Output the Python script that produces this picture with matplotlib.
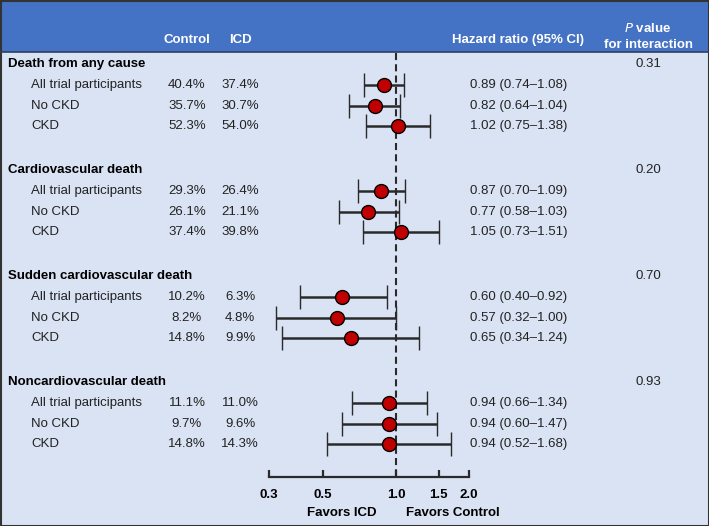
import numpy as np
import matplotlib
matplotlib.use("Agg")
import matplotlib.pyplot as plt
from matplotlib.patches import Rectangle

plt.rcParams['font.family'] = ['Liberation Sans', 'DejaVu Sans']

# data
groups = ["Death from any cause", "Cardiovascular death",
          "Sudden cardiovascular death", "Noncardiovascular death"]
subgroups = ["All trial participants", "No CKD", "CKD"]
control_pct = [["40.4%", "35.7%", "52.3%"],
               ["29.3%", "26.1%", "37.4%"],
               ["10.2%", "8.2%", "14.8%"],
               ["11.1%", "9.7%", "14.8%"]]
icd_pct = [["37.4%", "30.7%", "54.0%"],
           ["26.4%", "21.1%", "39.8%"],
           ["6.3%", "4.8%", "9.9%"],
           ["11.0%", "9.6%", "14.3%"]]
hr = [[0.89, 0.82, 1.02],
      [0.87, 0.77, 1.05],
      [0.60, 0.57, 0.65],
      [0.94, 0.94, 0.94]]
hr_lo = [[0.74, 0.64, 0.75],
         [0.70, 0.58, 0.73],
         [0.40, 0.32, 0.34],
         [0.66, 0.60, 0.52]]
hr_hi = [[1.08, 1.04, 1.38],
         [1.09, 1.03, 1.51],
         [0.92, 1.00, 1.24],
         [1.34, 1.47, 1.68]]
p_values = ["0.31", "0.20", "0.70", "0.93"]
xticks = [0.3, 0.5, 1.0, 1.5, 2.0]

W, H = 709, 526
HEADER_BLUE = "#4472C4"
BODY_BLUE = "#DAE3F3"
DARK = "#2a2a2a"
TXT = "#222222"
FS = 9.5

fig = plt.figure(figsize=(W / 100, H / 100), dpi=100)
fig.patch.set_facecolor(BODY_BLUE)

# background / table layer in pixel coordinates
bg = fig.add_axes([0, 0, 1, 1])
bg.set_xlim(0, W)
bg.set_ylim(H, 0)
bg.axis("off")
bg.add_patch(Rectangle((0, 0), W, 52, facecolor=HEADER_BLUE, edgecolor="none"))
bg.plot([0, W], [52, 52], color="#2f3f5f", lw=1.2)
bg.add_patch(Rectangle((0.5, 0.5), W - 1, H - 1, facecolor="none", edgecolor="#333333", lw=1.5))

# header
hdr = dict(color="white", fontsize=FS, fontweight="bold", ha="center", va="baseline")
bg.text(187, 43, "Control", **hdr)
bg.text(240, 43, "ICD", **hdr)
bg.text(518, 43, "Hazard ratio (95% CI)", **hdr)
bg.text(648, 32, r"$\bf{\it{P}}$ value", **hdr)
bg.text(648, 48, "for interaction", **hdr)

# row layout
group_y0, group_step, row_step = 64, 106, 20.8
rows_y, rows_hr, rows_lo, rows_hi = [], [], [], []
for g, name in enumerate(groups):
    gy = group_y0 + g * group_step
    bg.text(8, gy, name, fontsize=FS, fontweight="bold", va="center", color="black")
    bg.text(648, gy, p_values[g], fontsize=FS, ha="center", va="center", color=TXT)
    for r, sub in enumerate(subgroups):
        y = gy + (r + 1) * row_step
        bg.text(31, y, sub, fontsize=FS, va="center", color=TXT)
        bg.text(187, y, control_pct[g][r], fontsize=FS, ha="center", va="center", color=TXT)
        bg.text(240, y, icd_pct[g][r], fontsize=FS, ha="center", va="center", color=TXT)
        bg.text(470, y, f"{hr[g][r]:.2f} ({hr_lo[g][r]:.2f}\u2013{hr_hi[g][r]:.2f})",
                fontsize=FS, va="center", color=TXT)
        rows_y.append(y)
        rows_hr.append(hr[g][r])
        rows_lo.append(hr_lo[g][r])
        rows_hi.append(hr_hi[g][r])

rows_y = np.array(rows_y)
rows_hr = np.array(rows_hr)
rows_lo = np.array(rows_lo)
rows_hi = np.array(rows_hi)

# forest axes: log scale, 1.0 at pixel 396, ~105.3 px per ln unit
px_one, px_per = 396, 105.3
left_px, right_px = 260, 500
ax = fig.add_axes([left_px / W, 0, (right_px - left_px) / W, 1])
ax.set_xscale("log")
ax.set_xlim(np.exp((left_px - px_one) / px_per), np.exp((right_px - px_one) / px_per))
ax.set_ylim(H, 0)
ax.patch.set_alpha(0)
for s in ["top", "left", "right"]:
    ax.spines[s].set_visible(False)
axis_y = 477
ax.spines["bottom"].set_position(("data", axis_y))
ax.spines["bottom"].set_bounds(xticks[0], xticks[-1])
ax.spines["bottom"].set_linewidth(1.6)
ax.spines["bottom"].set_color(DARK)
ax.set_yticks([])
ax.xaxis.set_minor_locator(matplotlib.ticker.NullLocator())
ax.set_xticks(xticks)
ax.set_xticklabels([f"{t:.1f}" for t in xticks], fontweight="bold", fontsize=FS)
ax.tick_params(axis="x", direction="in", length=5, width=1.6, color=DARK, pad=9)

ax.vlines(1.0, 53, axis_y, colors=DARK, linestyles=(0, (3.4, 2)), lw=1.5)
ax.errorbar(rows_hr, rows_y, xerr=[rows_hr - rows_lo, rows_hi - rows_hr],
            fmt="o", ms=10, mfc="#C00000", mec="black", mew=1.0,
            ecolor=DARK, elinewidth=1.8, capsize=8.3, capthick=1.8, zorder=3)

bg.text(342, 513, "Favors ICD", fontsize=FS, fontweight="bold", ha="center", va="center")
bg.text(453, 513, "Favors Control", fontsize=FS, fontweight="bold", ha="center", va="center")

fig.savefig("out.png", dpi=100, facecolor=fig.get_facecolor())
